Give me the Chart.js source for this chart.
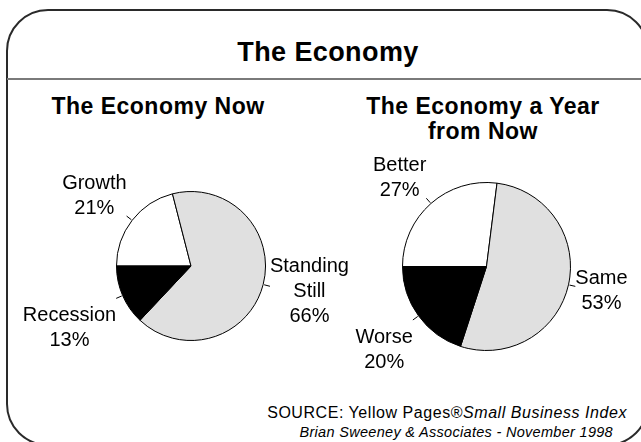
<!DOCTYPE html>
<html>
<head>
<meta charset="utf-8">
<script src="https://cdn.jsdelivr.net/npm/chart.js@4.4.1/dist/chart.umd.min.js"></script>
<style>
    html, body { margin: 0; padding: 0; background: #fff; }
    body { width: 641px; height: 442px; position: relative; overflow: hidden; font-family: "Liberation Sans", Arial, sans-serif; color: #000; }
    .frame { position: absolute; left: 6px; top: 9px; width: 643px; height: 437px; border: 2px solid #2a2a2a; border-radius: 42px; box-sizing: border-box; }
    .rule { position: absolute; left: 7px; top: 78px; width: 640px; height: 2px; background: #7a7a7a; }
    .txt { position: absolute; white-space: nowrap; }
    .title { font-size: 27px; font-weight: bold; letter-spacing: 0.4px; left: 328px; top: 37px; transform: translateX(-50%); }
    .sub { font-size: 23px; font-weight: bold; letter-spacing: 0.5px; text-align: center; line-height: 25px; top: 94px; transform: translateX(-50%); }
    .source { text-align: right; }
    canvas { position: absolute; left: 0; top: 0; }
</style>
</head>
<body>
<div class="frame"></div>
<div class="rule"></div>
<div class="txt title">The Economy</div>
<div class="txt sub" style="left:158px">The Economy Now</div>
<div class="txt sub" style="left:483px">The Economy a Year<br>from Now</div>
<div class="txt source" style="top:404px; right:14px; font-size:16px; letter-spacing:0.55px">SOURCE: Yellow Pages®<i>Small Business Index</i></div>
<div class="txt source" style="top:424px; right:28px; font-size:14.5px; font-style:italic; letter-spacing:0.3px">Brian Sweeney &amp; Associates - November 1998</div>
<canvas id="nowChart" width="641" height="442"></canvas>
<canvas id="yearChart" width="641" height="442"></canvas>
<script>
// Survey answers, in percent
const nowLabels = ['Growth', ['Standing', 'Still'], 'Recession'];
const nowValues = [21, 66, 13];

const yearLabels = ['Better', 'Same', 'Worse'];
const yearValues = [27, 53, 20];

// white / light grey / black wedges
const sliceColors = ['#ffffff', '#e0e0e0', '#000000'];

// Draws "Label NN%" outside each wedge with a short leader tick
const outsideLabels = {
    id: 'outsideLabels',
    afterDatasetsDraw(chart) {
        const ctx = chart.ctx;
        const meta = chart.getDatasetMeta(0);
        const values = chart.data.datasets[0].data;
        const lineHeight = 25;
        ctx.save();
        ctx.font = '20px "Liberation Sans", Arial, sans-serif';
        ctx.fillStyle = '#000';
        ctx.strokeStyle = '#000';
        ctx.lineWidth = 1;
        meta.data.forEach((arc, i) => {
            const p = arc.getProps(['x', 'y', 'startAngle', 'endAngle', 'outerRadius'], true);
            const mid = (p.startAngle + p.endAngle) / 2;
            const dx = Math.cos(mid), dy = Math.sin(mid);

            // leader tick
            ctx.beginPath();
            ctx.moveTo(p.x + dx * (p.outerRadius + 1), p.y + dy * (p.outerRadius + 1));
            ctx.lineTo(p.x + dx * (p.outerRadius + 7), p.y + dy * (p.outerRadius + 7));
            ctx.stroke();

            // text block, its nearest corner/edge sitting just past the tick
            const label = chart.data.labels[i];
            const lines = (Array.isArray(label) ? label : [label]).concat(values[i] + '%');
            const w = Math.max(...lines.map(s => ctx.measureText(s).width));
            const h = lines.length * lineHeight;
            const ax = p.x + dx * (p.outerRadius + 7);
            const ay = p.y + dy * (p.outerRadius + 7);
            const left = dx > 0.3 ? ax : dx < -0.3 ? ax - w : ax - w / 2;
            const top = (dy > 0.3 ? ay : dy < -0.3 ? ay - h : ay - h / 2) + 5;
            ctx.textAlign = 'center';
            ctx.textBaseline = 'middle';
            lines.forEach((s, k) => {
                ctx.fillText(s, left + w / 2, top + lineHeight * (k + 0.5));
            });
        });
        ctx.restore();
    }
};

function makePie(id, labels, values, padding) {
    return new Chart(document.getElementById(id), {
        type: 'pie',
        data: {
            labels: labels,
            datasets: [{
                data: values,
                backgroundColor: sliceColors,
                borderColor: '#000',
                borderWidth: 1
            }]
        },
        options: {
            responsive: false,
            animation: false,
            rotation: -90,
            layout: { padding: padding },
            plugins: {
                legend: { display: false },
                tooltip: { enabled: false }
            }
        },
        plugins: [outsideLabels]
    });
}

makePie('nowChart', nowLabels, nowValues, { left: 116, top: 191, right: 375, bottom: 101 });
makePie('yearChart', yearLabels, yearValues, { left: 402, top: 182, right: 70, bottom: 91 });
</script>
</body>
</html>
